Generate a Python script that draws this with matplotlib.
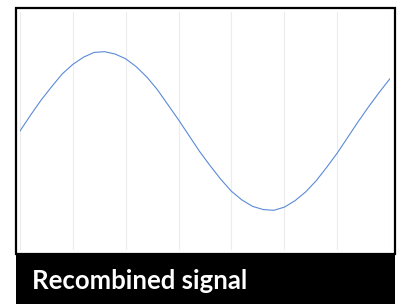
import numpy as np
from matplotlib import pyplot as plt
from matplotlib.patches import Rectangle

# samples (x in grid units, y in amplitude units)
x_vals = [0.0, 0.2, 0.4, 0.6, 0.8, 1.0, 1.2, 1.4, 1.6, 1.8, 2.0, 2.2, 2.4, 2.6, 2.8, 3.0,
          3.2, 3.4, 3.6, 3.8, 4.0, 4.2, 4.4, 4.6, 4.8, 5.0, 5.2, 5.4, 5.6, 5.8, 6.0, 6.2,
          6.4, 6.6, 6.8, 7.0]
y_vals = [0.00, 0.20, 0.39, 0.56, 0.72, 0.84, 0.93, 0.99, 1.00, 0.97, 0.91, 0.81, 0.68,
          0.52, 0.33, 0.14, -0.06, -0.26, -0.44, -0.61, -0.76, -0.87, -0.95, -0.99, -1.00,
          -0.96, -0.88, -0.77, -0.63, -0.46, -0.28, -0.08, 0.12, 0.31, 0.49, 0.66]
grid_x = [0, 1, 2, 3, 4, 5, 6, 7]
title = "Recombined signal"

W, H = 401, 304
fig = plt.figure(figsize=(W / 100, H / 100), dpi=100)

def fx(px):
    return px / W

def fy(py):
    return 1 - py / H

# frame and caption bar
fig.patches.append(Rectangle((fx(16), fy(254)), fx(395) - fx(16), fy(8) - fy(254),
                             transform=fig.transFigure, facecolor='white',
                             edgecolor='black', linewidth=1.6, zorder=0))
fig.patches.append(Rectangle((fx(16), 0), fx(395) - fx(16), fy(254),
                             transform=fig.transFigure, facecolor='black',
                             edgecolor='none', zorder=1))
fig.text(fx(32), fy(289), title, color='white', fontsize=18.5, fontweight='bold',
         family=['Lato', 'DejaVu Sans'], ha='left', va='baseline', zorder=3)

ax = fig.add_axes([fx(20), fy(250), fx(390) - fx(20), fy(12) - fy(250)])
ax.set_zorder(2)
ax.patch.set_alpha(0)
ax.plot(x_vals, y_vals, color='#5a8ad8', linewidth=0.8)
ax.set_xlim(0, 7)
ax.set_ylim(-1.5, 1.5)
for g in grid_x:
    ax.axvline(g, color='#ececec', linewidth=0.8, zorder=0)
ax.set_xticks([])
ax.set_yticks([])
for s in ax.spines.values():
    s.set_visible(False)

fig.savefig('out.png', dpi=100)
